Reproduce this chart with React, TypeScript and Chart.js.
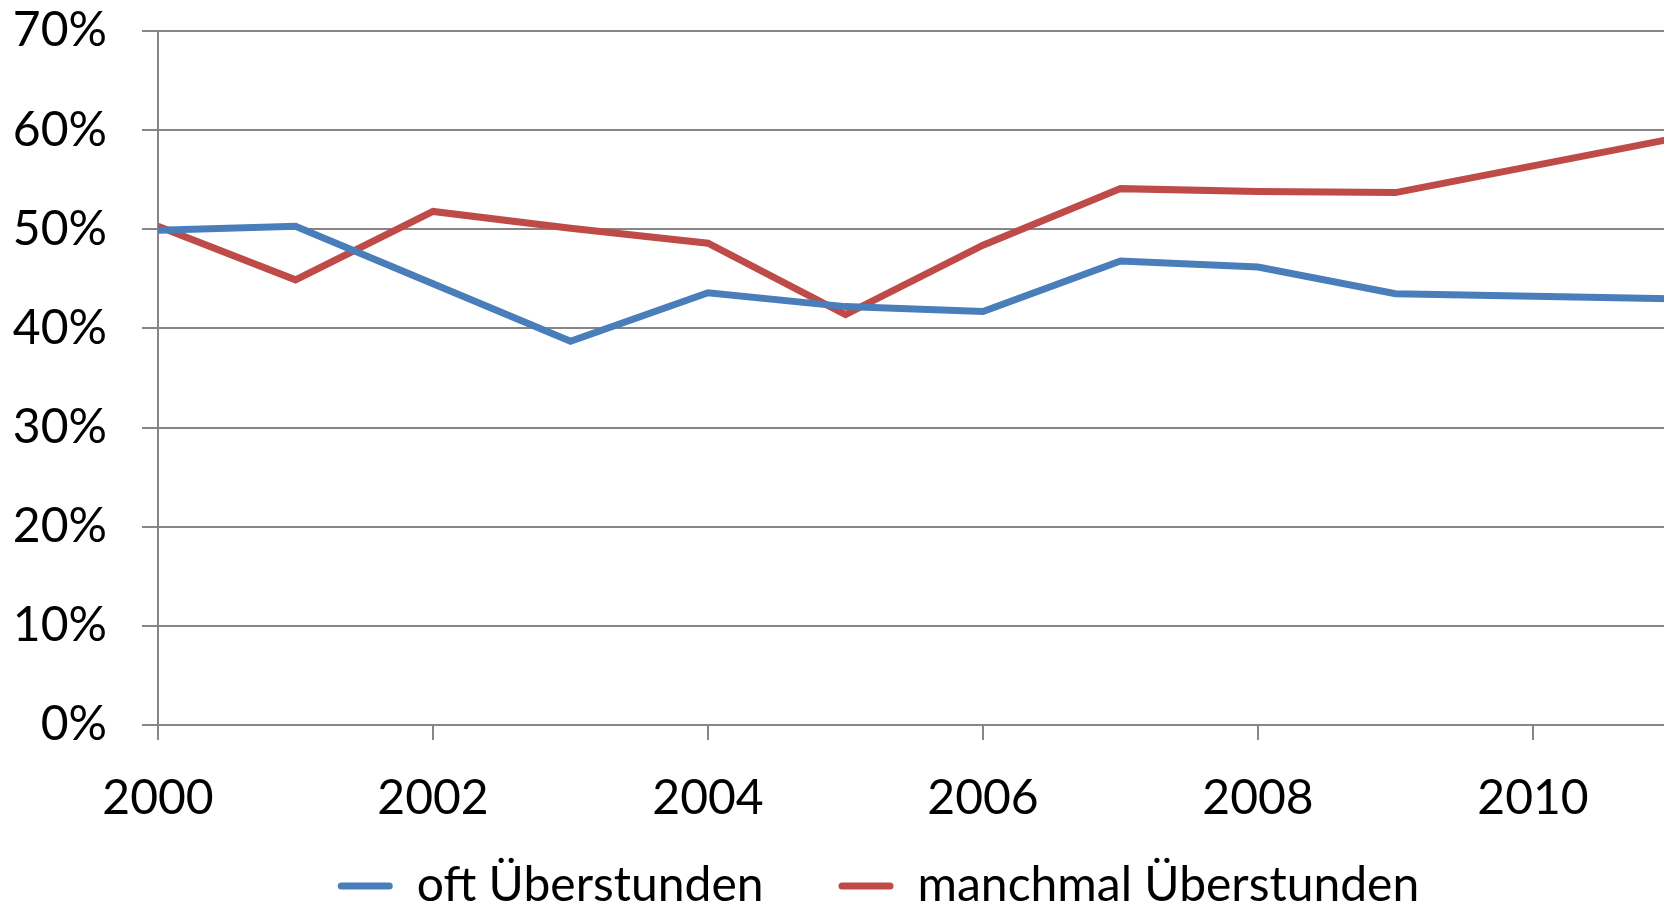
import React, { useEffect, useRef } from "react";
import { Chart, registerables } from "chart.js";

Chart.register(...registerables);

// ---- data ----
const years = [2000, 2001, 2002, 2003, 2004, 2005, 2006, 2007, 2008, 2009, 2010, 2011];
const oftUeberstunden = [49.9, 50.3, 44.5, 38.7, 43.6, 42.2, 41.7, 46.8, 46.2, 43.5, 43.25, 43.0];
const manchmalUeberstunden = [50.3, 44.9, 51.8, 50.1, 48.6, 41.4, 48.4, 54.1, 53.8, 53.7, 56.4, 59.1];
const seriesNames = ["oft Überstunden", "manchmal Überstunden"];
const seriesColors = ["#4A7EBB", "#BE4B48"];
const yMin = 0;
const yMax = 70;
const yStep = 10;
const xStep = 2;

const FONT = "Lato, 'Open Sans', sans-serif";
const GRID = "#868686";

const unclip = (s: any) => {
  s._computeLabelArea = () => undefined;
};

export default function App() {
  const ref = useRef<HTMLCanvasElement | null>(null);

  useEffect(() => {
    if (!ref.current) return;
    const toPts = (vals: number[]) => years.map((y, i) => ({ x: y, y: vals[i] }));
    const chart = new Chart(ref.current, {
      type: "line",
      data: {
        datasets: [
          {
            label: seriesNames[0],
            data: toPts(oftUeberstunden),
            borderColor: seriesColors[0],
            backgroundColor: seriesColors[0],
            borderWidth: 7,
            pointRadius: 0,
            tension: 0,
          },
          {
            label: seriesNames[1],
            data: toPts(manchmalUeberstunden),
            borderColor: seriesColors[1],
            backgroundColor: seriesColors[1],
            borderWidth: 7,
            pointRadius: 0,
            tension: 0,
          },
        ],
      },
      options: {
        responsive: false,
        animation: false,
        layout: { padding: { top: 31, left: 86.5, right: 9.5, bottom: 0 } },
        plugins: {
          tooltip: { enabled: false },
          legend: {
            position: "bottom",
            labels: {
              font: { family: FONT, size: 48 },
              color: "#000",
              boxWidth: 55,
              boxHeight: 7,
              padding: 75,
              useBorderRadius: true,
              borderRadius: 3.5,
              generateLabels: (c: any) =>
                Chart.defaults.plugins.legend.labels
                  .generateLabels(c)
                  .map((l: any) => ({ ...l, lineWidth: 0 })),
            },
          },
        },
        scales: {
          x: {
            type: "linear",
            min: years[0],
            max: years[years.length - 1],
            afterFit: (s: any) => {
              s.height = 62;
              s.paddingLeft = 0;
              s.paddingRight = 0;
              unclip(s);
            },
            ticks: {
              stepSize: xStep,
              includeBounds: false,
              autoSkip: false,
              maxRotation: 0,
              padding: 30,
              color: "#000",
              font: { family: FONT, size: 48 },
              callback: (v: any) => String(v),
            },
            grid: {
              drawOnChartArea: false,
              drawTicks: true,
              tickLength: 15,
              color: GRID,
              lineWidth: 2,
            },
            border: { display: true, color: GRID, width: 2 },
          },
          y: {
            min: yMin,
            max: yMax,
            afterFit: (s: any) => {
              s.width = 71.5;
              s.paddingTop = 0;
              s.paddingBottom = 0;
              unclip(s);
            },
            ticks: {
              stepSize: yStep,
              padding: 35,
              color: "#000",
              font: { family: FONT, size: 48 },
              callback: (v: any) => `${v}%`,
            },
            grid: {
              color: GRID,
              lineWidth: 2,
              drawTicks: true,
              tickLength: 16,
            },
            border: { display: true, color: GRID, width: 2 },
          },
        },
      },
    });
    return () => chart.destroy();
  }, []);

  return (
    <div
      style={{
        position: "fixed",
        left: 0,
        top: 0,
        width: 1664,
        height: 909,
        overflow: "hidden",
        background: "#fff",
      }}
    >
      <canvas ref={ref} width={1680} height={920} style={{ width: 1680, height: 920, display: "block" }} />
    </div>
  );
}
